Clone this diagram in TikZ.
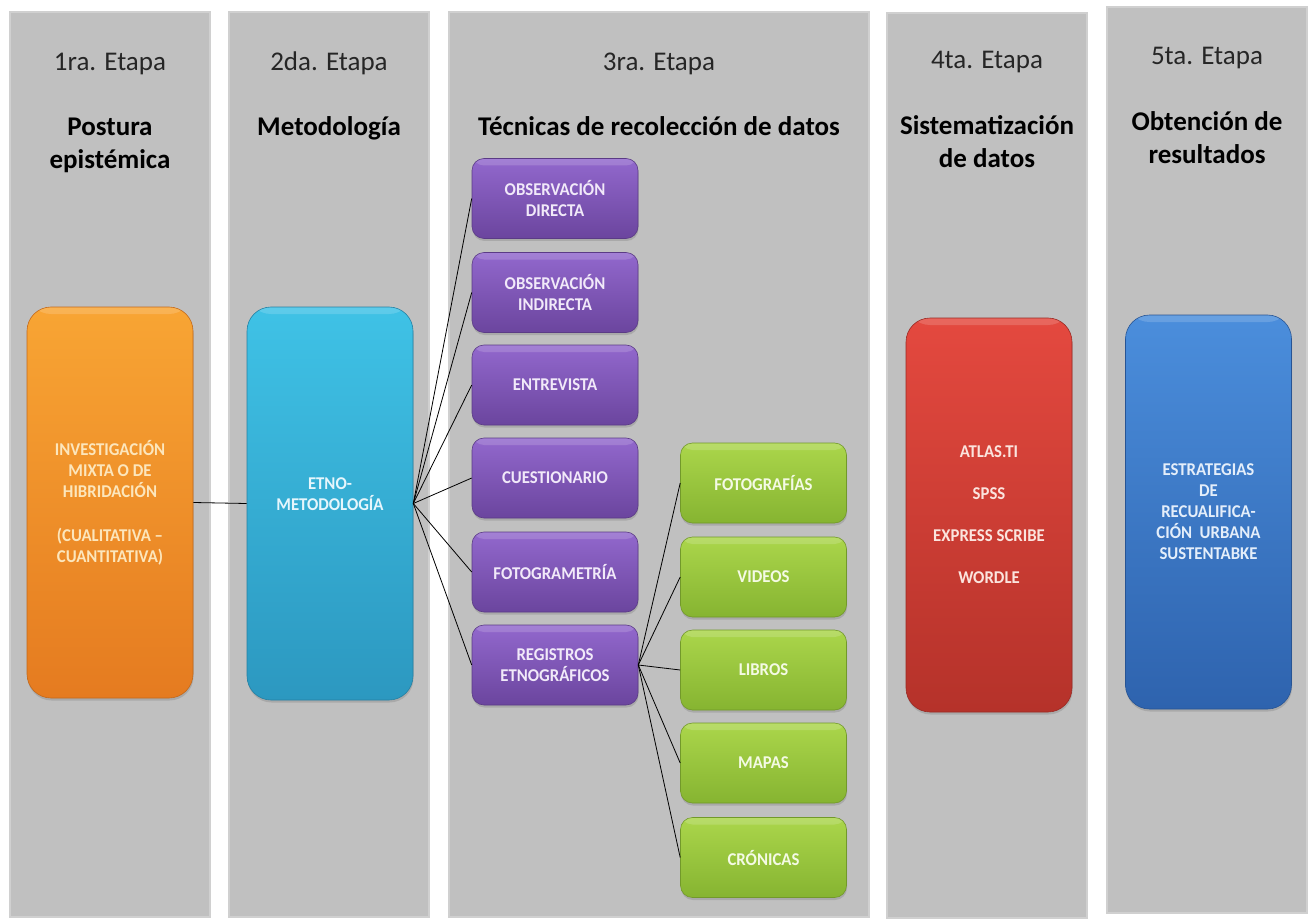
\documentclass[tikz,border=0pt]{standalone}
\usepackage{fontspec}
\setmainfont{Carlito}
\newfontfamily\boxfont{Carlito}[FakeStretch=0.93]
\usetikzlibrary{shadows}
\definecolor{colgray}{HTML}{C0C0C0}
\definecolor{colhalo}{HTML}{D0D0D0}
\definecolor{hdrtxt}{HTML}{262626}
\definecolor{orgtop}{HTML}{F8A534}
\definecolor{orgbot}{HTML}{E57B20}
\definecolor{orgtxt}{HTML}{FCE6BC}
\definecolor{cyntop}{HTML}{3FC2E6}
\definecolor{cynbot}{HTML}{2C98C0}
\definecolor{cyntxt}{HTML}{E6F6FC}
\definecolor{prptop}{HTML}{9268CD}
\definecolor{prpbot}{HTML}{6B459E}
\definecolor{prptxt}{HTML}{F1E9F9}
\definecolor{grntop}{HTML}{ABD64B}
\definecolor{grnbot}{HTML}{86B431}
\definecolor{grntxt}{HTML}{F4FAE4}
\definecolor{redtop}{HTML}{E4493F}
\definecolor{redbot}{HTML}{B5322A}
\definecolor{redtxt}{HTML}{FBE4DE}
\definecolor{blutop}{HTML}{4B8EDC}
\definecolor{blubot}{HTML}{2E63AE}
\definecolor{blutxt}{HTML}{E4EEFA}
\begin{document}
\begin{tikzpicture}[x=1pt,y=-1pt,
  col/.style={fill=colgray, draw=colhalo, line width=1.5pt, inner sep=0pt, minimum width=200pt},
  stagehdr/.style={anchor=base, text=hdrtxt, font=\fontsize{27}{33}\selectfont, inner sep=0pt},
  stagetitle/.style={anchor=base, text=black, font=\bfseries\fontsize{27}{33}\selectfont, inner sep=0pt},
  boxtext/.style={font=\boxfont\bfseries\fontsize{18}{21}\selectfont},
  boxbase/.style={inner sep=2pt, align=center, boxtext,
    line width=0.6pt, drop shadow={shadow xshift=0.5pt, shadow yshift=-2.5pt, opacity=0.35},
    path picture={\fill[white,opacity=0.16] (path picture bounding box.north west) rectangle ([yshift=-7pt]path picture bounding box.north east);}},
  bigbox/.style={boxbase, rounded corners=24pt, minimum width=166pt},
  smallbox/.style={boxbase, rounded corners=12pt, minimum width=166pt, minimum height=80pt},
  orgbox/.style={bigbox, top color=orgtop, bottom color=orgbot, draw=orgbot!85!black, text=orgtxt},
  cynbox/.style={bigbox, top color=cyntop, bottom color=cynbot, draw=cynbot!85!black, text=cyntxt},
  redbox/.style={bigbox, top color=redtop, bottom color=redbot, draw=redbot!85!black, text=redtxt},
  blubox/.style={bigbox, top color=blutop, bottom color=blubot, draw=blubot!85!black, text=blutxt},
  prpbox/.style={smallbox, top color=prptop, bottom color=prpbot, draw=prpbot!85!black, text=prptxt},
  grnbox/.style={smallbox, top color=grntop, bottom color=grnbot, draw=grnbot!85!black, text=grntxt},
  link/.style={draw=black, line width=0.8pt}
]
\useasboundingbox (0,0) rectangle (1312,920);
\fill[white] (0,0) rectangle (1312,920);

% stage columns
\node[col, minimum height=905pt] (c1) at (110,464.5) {};
\node[col, minimum height=905pt] (c2) at (329,464.5) {};
\node[col, minimum height=905pt, minimum width=420pt] (c3) at (659,464.5) {};
\node[col, minimum height=905pt] (c4) at (987,465.5) {};
\node[col, minimum height=906pt] (c5) at (1207,460) {};

% headers
\node[stagehdr] (h1) at (110,71) {1ra. Etapa};
\node[stagehdr] (h2) at (329,71) {2da. Etapa};
\node[stagehdr] (h3) at (659,71) {3ra. Etapa};
\node[stagehdr] (h4) at (987,69) {4ta. Etapa};
\node[stagehdr] (h5) at (1207,65) {5ta. Etapa};

\node[stagetitle] (t1) at (110,136) {\begin{tabular}[t]{@{}c@{}}Postura\\epistémica\end{tabular}};
\node[stagetitle] (t2) at (329,136) {Metodología};
\node[stagetitle] (t3) at (659,136) {Técnicas de recolección de datos};
\node[stagetitle] (t4) at (987,135) {\begin{tabular}[t]{@{}c@{}}Sistematización\\de datos\end{tabular}};
\node[stagetitle] (t5) at (1207,131) {\begin{tabular}[t]{@{}c@{}}Obtención de\\resultados\end{tabular}};

% stage boxes
\node[orgbox, minimum height=391pt] (inv) at (110,502.5)
  {INVESTIGACIÓN\\MIXTA O DE\\HIBRIDACIÓN\\[23pt](CUALITATIVA –\\CUANTITATIVA)};
\node[cynbox, minimum height=393pt,
  label={[yshift=9pt, align=center, text=cyntxt, boxtext]center:ETNO-\\METODOLOGÍA}] (etno) at (330,503.5) {};
\node[redbox, minimum height=394pt] (sw) at (989,515)
  {ATLAS.TI\\[21pt]SPSS\\[21pt]EXPRESS SCRIBE\\[21pt]WORDLE};
\node[blubox, minimum height=394pt] (res) at (1208.5,512)
  {ESTRATEGIAS\\DE\\RECUALIFICA-\\CIÓN\ \ URBANA\\SUSTENTABKE};

% techniques
\node[prpbox] (od) at (555,198.5) {OBSERVACIÓN\\DIRECTA};
\node[prpbox] (oi) at (555,292.5) {OBSERVACIÓN\\INDIRECTA};
\node[prpbox] (en) at (555,385) {ENTREVISTA};
\node[prpbox] (cu) at (555,478) {CUESTIONARIO};
\node[prpbox] (fg) at (555,572) {FOTOGRAMETRÍA};
\node[prpbox] (re) at (555,665) {REGISTROS\\ETNOGRÁFICOS};

% records
\node[grnbox] (fo) at (763.5,483) {FOTOGRAFÍAS};
\node[grnbox] (vi) at (763.5,577) {VIDEOS};
\node[grnbox] (li) at (763.5,670) {LIBROS};
\node[grnbox] (ma) at (763.5,763) {MAPAS};
\node[grnbox] (cr) at (763.5,857.5) {CRÓNICAS};

% connectors
\draw[link] (inv.east) -- (etno.west);
\foreach \t in {od,oi,en,cu,fg,re} \draw[link] (etno.east) -- (\t.west);
\foreach \t in {fo,vi,li,ma,cr} \draw[link] (re.east) -- (\t.west);
\end{tikzpicture}
\end{document}
